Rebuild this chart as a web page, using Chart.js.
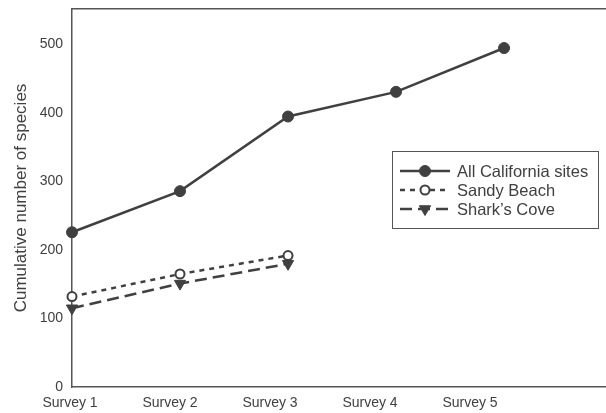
<!DOCTYPE html>
<html>
<head>
<meta charset="utf-8">
<script src="https://cdn.jsdelivr.net/npm/chart.js@4/dist/chart.umd.min.js"></script>
<style>
  html, body { margin: 0; padding: 0; background: #fff; }
  #wrap { width: 606px; height: 413px; position: relative; }
</style>
</head>
<body>
<div id="wrap"><canvas id="chart"></canvas></div>
<script>
// data
const surveys = ['Survey 1', 'Survey 2', 'Survey 3', 'Survey 4', 'Survey 5'];
const allCalifornia = [226, 286, 395, 431, 495];
const sandyBeach = [132, 165, 192];
const sharksCove = [115, 151, 180];
const yTicks = [0, 100, 200, 300, 400, 500];

const ink = '#404040';
const font = 'Arial, "Liberation Sans", sans-serif';

const toPoints = arr => arr.map((v, i) => ({ x: i + 1, y: v }));

// drop the auto padding chart.js adds for end labels
const noPad = s => { s.paddingTop = 0; s.paddingBottom = 0; s.paddingLeft = 0; s.paddingRight = 0; };

// legend drawn inside the plot, line sample with marker in the middle
const boxLegend = {
  id: 'boxLegend',
  afterDraw(chart) {
    const ctx = chart.ctx;
    const x0 = 392, y0 = 151, w = 206, h = 77;
    ctx.save();
    ctx.strokeStyle = '#555';
    ctx.lineWidth = 1;
    ctx.strokeRect(x0 + 0.5, y0 + 0.5, w, h);
    chart.data.datasets.forEach((ds, i) => {
      const y = y0 + 20 + i * 19;
      ctx.strokeStyle = ink;
      ctx.lineWidth = ds.borderWidth;
      ctx.setLineDash(ds.borderDash || []);
      ctx.beginPath();
      ctx.moveTo(400, y);
      ctx.lineTo(450, y);
      ctx.stroke();
      ctx.setLineDash([]);
      ctx.fillStyle = ds.pointBackgroundColor;
      ctx.strokeStyle = ink;
      ctx.lineWidth = ds.pointBorderWidth;
      Chart.helpers.drawPoint(ctx, {
        pointStyle: ds.pointStyle,
        rotation: ds.pointRotation || 0,
        radius: ds.pointRadius,
        borderWidth: ds.pointBorderWidth
      }, 425, y);
      ctx.fillStyle = ink;
      ctx.font = '16.5px ' + font;
      ctx.textBaseline = 'middle';
      ctx.fillText(ds.label, 457, y + 1);
    });
    ctx.restore();
  }
};

new Chart(document.getElementById('chart'), {
  type: 'line',
  data: {
    datasets: [
      {
        label: 'All California sites',
        data: toPoints(allCalifornia),
        borderColor: ink, borderWidth: 2.5,
        pointStyle: 'circle', pointRadius: 5.5,
        pointBackgroundColor: ink, pointBorderColor: ink, pointBorderWidth: 1
      },
      {
        label: 'Sandy Beach',
        data: toPoints(sandyBeach),
        borderColor: ink, borderWidth: 2.5, borderDash: [5, 5],
        pointStyle: 'circle', pointRadius: 4.5,
        pointBackgroundColor: '#fff', pointBorderColor: ink, pointBorderWidth: 2
      },
      {
        label: "Shark\u2019s Cove",
        data: toPoints(sharksCove),
        borderColor: ink, borderWidth: 2.5, borderDash: [12, 6],
        pointStyle: 'triangle', pointRotation: 180, pointRadius: 6.5,
        pointBackgroundColor: ink, pointBorderColor: ink, pointBorderWidth: 1
      }
    ]
  },
  options: {
    responsive: true,
    maintainAspectRatio: false,
    animation: false,
    layout: { autoPadding: false, padding: { top: 9, right: 0, bottom: 0, left: 0 } },
    datasets: { line: { clip: false, tension: 0 } },
    plugins: { legend: { display: false }, tooltip: { enabled: false } },
    scales: {
      x: {
        type: 'linear', position: 'bottom', min: 1, max: 5.944,
        grid: { display: false, drawTicks: false },
        border: { display: true, color: '#555', width: 1.5 },
        ticks: { display: false },
        afterFit: s => { s.height = 0; noPad(s); }
      },
      xl: {
        type: 'linear', position: 'bottom', min: 1, max: 6.34,
        grid: { display: false, drawTicks: false },
        border: { display: false },
        afterBuildTicks: s => { s.ticks = surveys.map((_, i) => ({ value: i + 1 })); },
        ticks: {
          autoSkip: false, maxRotation: 0, padding: 8, labelOffset: -2,
          color: ink, font: { family: font, size: 14 },
          callback: v => surveys[v - 1] || ''
        },
        afterFit: s => { s.height = 26; noPad(s); }
      },
      xt: {
        type: 'linear', position: 'top', min: 0, max: 1,
        grid: { display: false, drawTicks: false },
        border: { display: true, color: '#555', width: 1.5 },
        ticks: { display: false },
        afterFit: s => { s.height = 0; noPad(s); }
      },
      y: {
        min: 0, max: 552,
        grid: { display: false, drawTicks: false },
        border: { display: true, color: '#555', width: 1.5 },
        afterBuildTicks: s => { s.ticks = yTicks.map(v => ({ value: v })); },
        ticks: { padding: 9, color: ink, font: { family: font, size: 14 } },
        title: {
          display: true, text: 'Cumulative number of species',
          color: ink, font: { family: font, size: 17 }, padding: { top: 11, bottom: 0 }
        },
        afterFit: s => { s.width = 72; noPad(s); }
      }
    }
  },
  plugins: [boxLegend]
});
</script>
</body>
</html>
